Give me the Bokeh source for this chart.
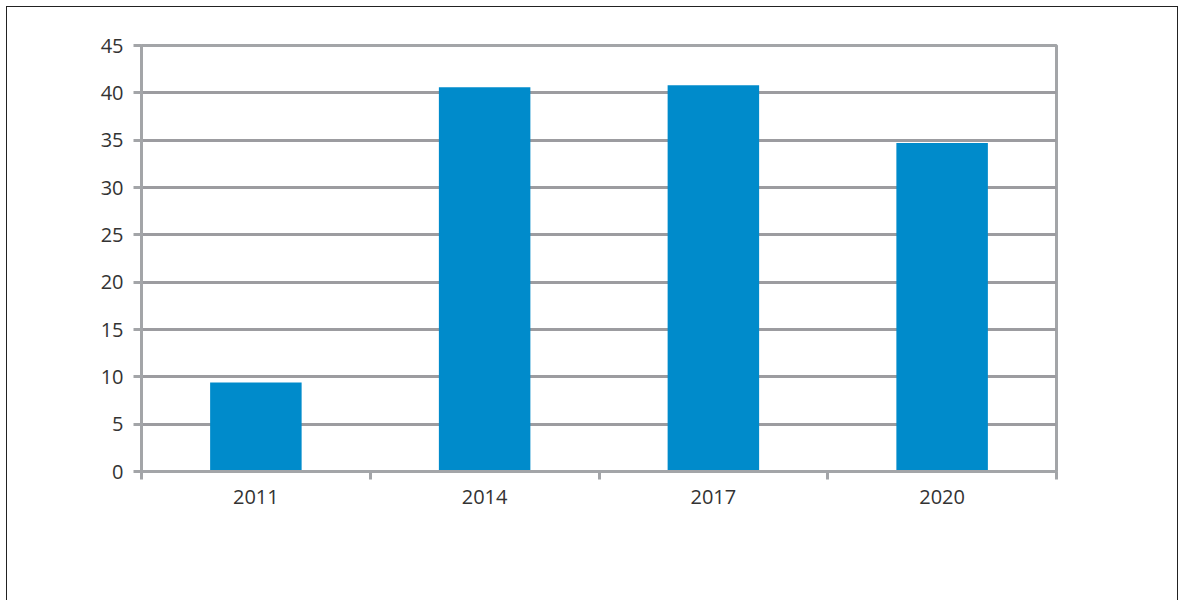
from bokeh.plotting import figure
from bokeh.models import (Range1d, LinearAxis, FixedTicker,
                          Legend, LegendItem, ColumnDataSource)
from bokeh.embed import file_html
from bokeh.resources import INLINE

years = ["2011", "2014", "2017", "2020"]
values = [9.4, 40.6, 40.8, 34.7]
y_ticks = [0, 5, 10, 15, 20, 25, 30, 35, 40, 45]
series_name = "Savukoski, henkilötyövuosia, kpl"

FONT = "Open Sans"
GRAY = "#A3A5A8"
TEXT = "#333333"
BAR = "#008BCB"

pos = list(range(len(years)))
src = ColumnDataSource(dict(x=pos, year=years, value=values))

p = figure(frame_width=915, frame_height=426, output_backend="svg", toolbar_location=None,
           x_range=Range1d(-0.5, len(years) - 0.5),
           y_range=Range1d(0, 45), x_axis_location=None,
           min_border_left=134, min_border_top=38, min_border_right=121, min_border_bottom=0)
p.styles = {"margin-left": "6px", "margin-top": "6px",
            "border-left": "1.5px solid #222222", "border-top": "1.5px solid #222222",
            "border-right": "1.5px solid #222222"}
p.background_fill_color = "white"
p.border_fill_color = "white"
p.outline_line_color = GRAY
p.outline_line_width = 3

# y axis
ya = p.yaxis[0]
ya.ticker = FixedTicker(ticks=y_ticks)
ya.axis_line_color = GRAY
ya.axis_line_width = 3
ya.major_tick_line_color = GRAY
ya.major_tick_line_width = 3
ya.major_tick_in = 0
ya.major_tick_out = 8
ya.minor_tick_line_color = None
ya.major_label_text_font = FONT
ya.major_label_text_font_size = "20px"
ya.major_label_text_color = TEXT
ya.major_label_standoff = 10

p.ygrid.ticker = FixedTicker(ticks=y_ticks)
p.ygrid.grid_line_color = "#9C9CA0"
p.ygrid.grid_line_width = 3
p.xgrid.grid_line_color = None

# x axis: labels at category centres, tick marks (minor) at category boundaries
xa = LinearAxis(ticker=FixedTicker(ticks=pos, minor_ticks=[i - 0.5 for i in range(len(years) + 1)]),
                major_label_overrides={i: y for i, y in zip(pos, years)},
                axis_line_color=GRAY, axis_line_width=3,
                major_tick_line_color=None,
                minor_tick_line_color=GRAY, minor_tick_line_width=3,
                minor_tick_in=0, minor_tick_out=8,
                major_label_text_font=FONT, major_label_text_font_size="20px",
                major_label_text_color=TEXT, major_label_standoff=10)
p.add_layout(xa, "below")

r = p.vbar(x="x", top="value", width=0.4, source=src, color=BAR, line_color=None)

legend = Legend(items=[LegendItem(label=series_name, renderers=[r])],
                location="center", orientation="horizontal",
                border_line_color=GRAY, border_line_width=3, background_fill_color="white",
                padding=12, margin=18, spacing=0,
                glyph_width=17, glyph_height=16, label_height=17,
                label_standoff=10,
                label_text_font=FONT, label_text_font_size="20px", label_text_color=TEXT)
p.add_layout(legend, "below")

open("out.html", "w").write(file_html(p, INLINE))
